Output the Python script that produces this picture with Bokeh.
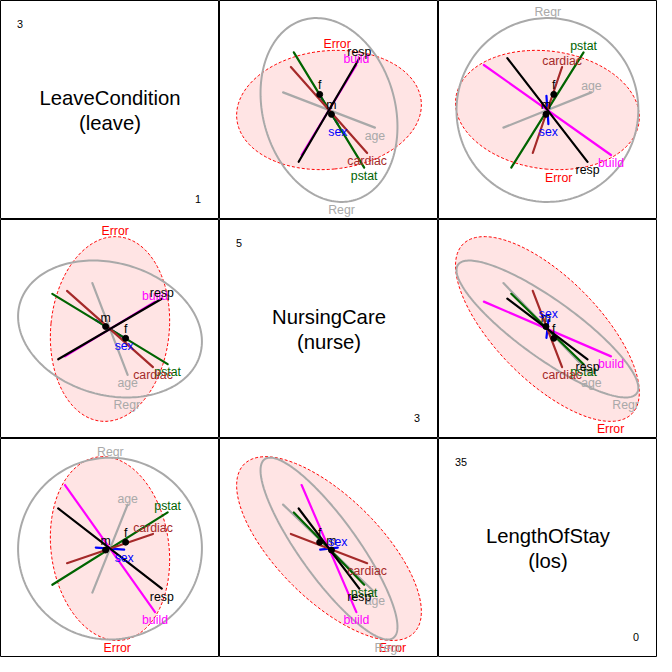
import numpy as np
from bokeh.plotting import figure
from bokeh.layouts import gridplot
from bokeh.models import Range1d
from bokeh.embed import file_html
from bokeh.resources import INLINE
from bokeh.core.properties import value

# ---------------- data ----------------
var_names = ["leave", "nurse", "los"]
var_titles = ["LeaveCondition", "NursingCare", "LengthOfStay"]
var_min = [1, 3, 0]
var_max = [3, 5, 35]
grand_mean = [2.0, 4.0, 17.4]

# Error (E) and overall regression (H) ellipsoid matrices (leave, nurse, los)
error_matrix = [[0.346, 0.047, -1.14],
                [0.047, 0.830, -9.93],
                [-1.14, -9.93, 251.6]]
regr_matrix = [[0.822, -0.112, 0.05],
               [-0.112, 0.456, -9.11],
               [0.05, -9.11, 246.3]]

# 1-df hypothesis terms (degenerate ellipsoids -> line half-vectors)
term_names = ["age", "sex", "pstat", "cardiac", "build", "resp"]
term_colors = ["darkgray", "blue", "darkgreen", "brown", "magenta", "black"]
age_effect = [0.174, -0.453, 7.59]
sex_effect = [0.140, -0.087, -0.17]
pstat_effect = [0.569, -0.347, 6.24]
cardiac_effect = [0.424, -0.376, 2.53]
build_effect = [0.444, 0.270, -10.97]
resp_effect = [0.511, 0.299, -6.92]
term_effects = [age_effect, sex_effect, pstat_effect, cardiac_effect, build_effect, resp_effect]

sex_levels = ["f", "m"]
mean_f = [2.154, 3.908, 18.5]
mean_m = [1.957, 4.024, 17.15]
level_means = [mean_f, mean_m]

# ---------------- layout / style ----------------
PANEL = 219
S = PANEL / 224.0
FONT = value("Liberation Sans")
LAB_SIZE = "%.1fpx" % (12.6 * S)
ERR_COLOR = "red"
ERR_FILL = "#FFE4E4"
REGR_COLOR = "darkgray"

E = np.array(error_matrix, dtype=float)
H = np.array(regr_matrix, dtype=float)
mu = np.array(grand_mean, dtype=float)


def ext_range(k):
    span = var_max[k] - var_min[k]
    return Range1d(var_min[k] - 0.04 * span, var_max[k] + 0.04 * span)


def base_fig(i, j):
    p = figure(width=PANEL, height=PANEL, x_range=ext_range(j), y_range=ext_range(i),
               output_backend="svg", toolbar_location=None, min_border=0)
    p.axis.visible = False
    p.xgrid.visible = False
    p.ygrid.visible = False
    p.outline_line_color = "black"
    p.outline_line_width = 1
    p.background_fill_color = "white"
    p.border_fill_color = "white"
    return p


def ellipse_pts(c, M, n=200):
    vals, vecs = np.linalg.eigh(M)
    t = np.linspace(0, 2 * np.pi, n)
    circ = np.vstack([np.cos(t), np.sin(t)])
    pts = vecs @ (np.sqrt(np.maximum(vals, 0))[:, None] * circ)
    return c[0] + pts[0], c[1] + pts[1]


def ellipse_label(c, M):
    sy = np.sqrt(M[1, 1])
    if M[0, 1] > 0:
        return c[0] + M[0, 1] / sy, c[1] + sy, "top"
    return c[0] - M[0, 1] / sy, c[1] - sy, "bottom"


def line_label(c, v):
    if v[0] * v[1] > 0:
        e = c + v if v[1] > 0 else c - v
        return e[0], e[1], "top"
    e = c + v if v[1] < 0 else c - v
    return e[0], e[1], "bottom"


figs = []
for i in range(3):
    row = []
    for j in range(3):
        p = base_fig(i, j)
        if i == j:
            cx = (var_min[j] + var_max[j]) / 2.0
            p.text(x=[cx, cx], y=[cx, cx], text=[var_titles[j], "(" + var_names[j] + ")"],
                   x_offset=[0, 0], y_offset=[-12.3 * S, 12.8 * S],
                   text_font=FONT, text_font_size="%.1fpx" % (20.8 * S),
                   text_align="center", text_baseline="middle", text_color="black")
            p.text(x=[var_min[j]], y=[var_max[j]], text=[str(var_max[j])],
                   x_offset=8.7 * S, y_offset=15.5 * S, text_font=FONT,
                   text_font_size="%.1fpx" % (11.0 * S), text_align="left",
                   text_baseline="middle", text_color="black")
            p.text(x=[var_max[j]], y=[var_min[j]], text=[str(var_min[j])],
                   x_offset=-10.5 * S, y_offset=-12.5 * S, text_font=FONT,
                   text_font_size="%.1fpx" % (11.0 * S), text_align="right",
                   text_baseline="middle", text_color="black")
            row.append(p)
            continue

        idx = [j, i]  # x variable, y variable
        c2 = mu[idx]
        E2 = E[np.ix_(idx, idx)]
        H2 = H[np.ix_(idx, idx)]

        labels = []  # (x, y, text, color, side)

        ex, ey = ellipse_pts(c2, E2)
        p.patch(ex, ey, fill_color=ERR_FILL, fill_alpha=1.0, line_color=ERR_COLOR,
                line_width=1, line_dash="3 2")
        lx, ly, side = ellipse_label(c2, E2)
        labels.append((lx, ly, "Error", ERR_COLOR, side))

        hx, hy = ellipse_pts(c2, H2)
        p.line(hx, hy, line_color=REGR_COLOR, line_width=2)
        lx, ly, side = ellipse_label(c2, H2)
        labels.append((lx, ly, "Regr", REGR_COLOR, side))

        for name, col, eff in zip(term_names, term_colors, term_effects):
            v = np.array(eff, dtype=float)[idx]
            p.segment(x0=[c2[0] - v[0]], y0=[c2[1] - v[1]], x1=[c2[0] + v[0]], y1=[c2[1] + v[1]],
                      line_color=col, line_width=2.2, line_cap="round")
            lx, ly, side = line_label(c2, v)
            labels.append((lx, ly, name, col, side))

        mx = [m[j] for m in level_means]
        my = [m[i] for m in level_means]
        p.scatter(mx, my, size=6, color="black")
        p.text(x=mx, y=my, text=sex_levels, text_font=FONT, text_font_size=LAB_SIZE,
               text_align="center", text_baseline="bottom", y_offset=-2, text_color="black")

        for side, base, off in (("top", "bottom", 1.0), ("bottom", "top", 1.0)):
            sel = [l for l in labels if l[4] == side]
            if not sel:
                continue
            p.text(x=[l[0] for l in sel], y=[l[1] for l in sel], text=[l[2] for l in sel],
                   text_color=[l[3] for l in sel], text_font=FONT, text_font_size=LAB_SIZE,
                   text_align="center", text_baseline=base, y_offset=off)
        row.append(p)
    figs.append(row)

grid = gridplot(figs, toolbar_location=None)
open("out.html", "w").write(file_html(grid, INLINE))
